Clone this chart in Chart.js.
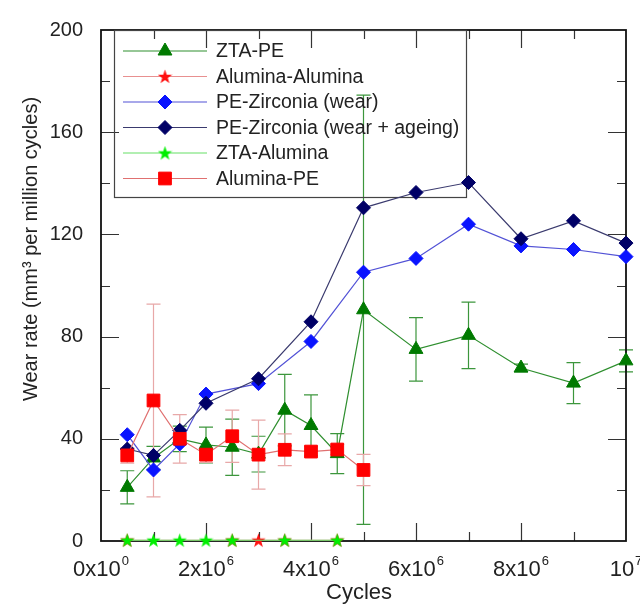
<!DOCTYPE html>
<html>
<head>
<meta charset="utf-8">
<script src="https://cdn.jsdelivr.net/npm/chart.js@4/dist/chart.umd.min.js"></script>
<style>
  html, body { margin: 0; padding: 0; background: #fff; }
  #wrap { width: 640px; height: 608px; }
</style>
</head>
<body>
<div id="wrap"><canvas id="wear-chart"></canvas></div>
<script>
// cycles in millions
var ztaPeX = [0.5, 1, 1.5, 2, 2.5, 3, 3.5, 4, 4.5, 5, 6, 7, 8, 9, 10];
var ztaPeY = [21, 32.5, 40, 37.6, 36.7, 34, 51.2, 45.2, 34.2, 90.5, 75, 80.5, 67.7, 61.8, 70.5];
var ztaPeErr = [6.5, 4.5, 5, 7, 11, 7, 14, 12, 7.8, 84, 12.4, 13, 1.5, 8, 4.3];

var aluAluX = [0.5, 2.5, 3, 3.5, 4.5];
var aluAluY = [0.3, 0.3, 0.3, 0.3, 0.3];

var zircX = [0.5, 1, 1.5, 2, 3, 4, 5, 6, 7, 8, 9, 10];
var zircWearY = [41.6, 27.8, 38, 57.5, 61.6, 78.1, 105.2, 110.6, 124, 115.5, 114.1, 111.3];
var zircAgeY = [36, 33.5, 43.3, 53.9, 63.5, 85.8, 130.4, 136.4, 140.3, 118.3, 125.3, 116.6];

var ztaAluX = [0.5, 1, 1.5, 2, 2.5, 3.5, 4.5];
var ztaAluY = [0.3, 0.3, 0.3, 0.3, 0.3, 0.3, 0.3];

var aluPeX = [0.5, 1, 1.5, 2, 2.5, 3, 3.5, 4, 4.5, 5];
var aluPeY = [33.5, 55, 40, 33.8, 41, 33.8, 35.7, 35, 35.8, 27.8];
var aluPeErr = [3, 37.7, 9.5, 3, 10.2, 13.5, 6.2, 2, 2, 6.1];

var xTickValues = [0, 2, 4, 6, 8, 10];
var xTickBase = ['0x10', '2x10', '4x10', '6x10', '8x10', '10'];
var xTickExp = ['0', '6', '6', '6', '6', '7'];

function pts(xs, ys) {
    return xs.map(function (x, i) { return { x: x * 1e6, y: ys[i] }; });
}

function starImage(color, size) {
    var c = document.createElement('canvas');
    c.width = c.height = size;
    var g = c.getContext('2d');
    g.fillStyle = color;
    g.beginPath();
    for (var i = 0; i < 10; i++) {
        var r = i % 2 ? size * 0.2 : size * 0.5;
        var a = -Math.PI / 2 + i * Math.PI / 5;
        g.lineTo(size / 2 + r * Math.cos(a), size / 2 + 0.6 + r * Math.sin(a));
    }
    g.closePath();
    g.fill();
    return c;
}

var redStar = starImage('#ff1010', 15);
var greenStar = starImage('#00ee00', 15);

var datasets = [
    { label: 'ZTA-PE', data: pts(ztaPeX, ztaPeY), borderColor: '#2f8f2f', pointBackgroundColor: '#007a00',
      pointBorderColor: '#007a00', pointStyle: 'triangle', pointRadius: 8, errorBars: ztaPeErr, errorColor: '#3c963c', order: 6 },
    { label: 'Alumina-Alumina', data: pts(aluAluX, aluAluY), borderColor: '#e89090', pointStyle: redStar, order: 5 },
    { label: 'PE-Zirconia (wear)', data: pts(zircX, zircWearY), borderColor: '#5252d6', pointBackgroundColor: '#0a14ff',
      pointBorderColor: '#0a14ff', pointStyle: 'rectRot', pointRadius: 7, order: 4 },
    { label: 'PE-Zirconia (wear + ageing)', data: pts(zircX, zircAgeY), borderColor: '#3a3a6e', pointBackgroundColor: '#000066',
      pointBorderColor: '#000066', pointStyle: 'rectRot', pointRadius: 7, order: 3 },
    { label: 'ZTA-Alumina', data: pts(ztaAluX, ztaAluY), borderColor: '#66e066', pointStyle: greenStar, order: 2 },
    { label: 'Alumina-PE', data: pts(aluPeX, aluPeY), borderColor: '#e07070', pointBackgroundColor: '#ff0000',
      pointBorderColor: '#ff0000', pointStyle: 'rect', pointRadius: 9, errorBars: aluPeErr, errorColor: '#e8a8a8', order: 1 }
];
datasets.forEach(function (d) {
    d.borderWidth = 1.2;
    d.showLine = true;
    d.clip = false;
    d.pointBorderWidth = 1;
    d.tension = 0;
});

var TXT = '#222';
var FONT = 'Arial, "Liberation Sans", sans-serif';

var framePlugin = {
    id: 'frame',
    beforeDatasetsDraw: function (chart) {
        var ctx = chart.ctx, a = chart.chartArea, x = chart.scales.x, y = chart.scales.y;
        ctx.save();
        // error bars
        chart.data.datasets.forEach(function (d) {
            if (!d.errorBars) return;
            ctx.strokeStyle = d.errorColor;
            ctx.lineWidth = 1.2;
            d.data.forEach(function (p, i) {
                var e = d.errorBars[i];
                var px = x.getPixelForValue(p.x);
                var top = y.getPixelForValue(p.y + e), bot = y.getPixelForValue(p.y - e);
                ctx.beginPath();
                ctx.moveTo(px, top); ctx.lineTo(px, bot);
                ctx.moveTo(px - 7, top); ctx.lineTo(px + 7, top);
                ctx.moveTo(px - 7, bot); ctx.lineTo(px + 7, bot);
                ctx.stroke();
            });
        });
        // ticks
        ctx.strokeStyle = '#333';
        ctx.lineWidth = 1.2;
        ctx.beginPath();
        for (var v = 20; v < 200; v += 20) {
            var py = Math.round(y.getPixelForValue(v)) + 0.5;
            var len = v % 40 === 0 ? 18 : 9;
            ctx.moveTo(a.left, py); ctx.lineTo(a.left + len, py);
            ctx.moveTo(a.right, py); ctx.lineTo(a.right - len, py);
        }
        for (var m = 1; m < 10; m++) {
            var px2 = Math.round(x.getPixelForValue(m * 1e6)) + 0.5;
            var l2 = m % 2 === 0 ? 18 : 9;
            ctx.moveTo(px2, a.bottom); ctx.lineTo(px2, a.bottom - l2);
            ctx.moveTo(px2, a.top); ctx.lineTo(px2, a.top + l2);
        }
        ctx.stroke();
        ctx.strokeStyle = '#111';
        ctx.lineWidth = 1.8;
        ctx.strokeRect(a.left, a.top, a.right - a.left, a.bottom - a.top);

        // legend
        ctx.strokeStyle = '#444';
        ctx.lineWidth = 1.2;
        ctx.strokeRect(114.5, 30.5, 352, 167);
        ctx.font = '19.5px ' + FONT;
        ctx.textBaseline = 'middle';
        ctx.textAlign = 'left';
        chart.data.datasets.forEach(function (d, i) {
            var ry = 51 + i * 25.5;
            ctx.strokeStyle = d.borderColor;
            ctx.lineWidth = 1.2;
            ctx.beginPath();
            ctx.moveTo(123, ry); ctx.lineTo(207, ry);
            ctx.stroke();
            ctx.fillStyle = d.pointBackgroundColor || '#000';
            ctx.strokeStyle = d.pointBorderColor || '#000';
            ctx.lineWidth = 1;
            Chart.helpers.drawPoint(ctx, { pointStyle: d.pointStyle, radius: d.pointRadius || 7, rotation: 0, borderWidth: 1 }, 165, ry);
            ctx.fillStyle = TXT;
            ctx.fillText(d.label, 216, ry + 1);
        });
        ctx.restore();
    },
    afterDraw: function (chart) {
        var ctx = chart.ctx, x = chart.scales.x;
        ctx.save();
        ctx.fillStyle = TXT;
        ctx.textBaseline = 'alphabetic';
        xTickValues.forEach(function (v, i) {
            var px = x.getPixelForValue(v * 1e6);
            ctx.font = '22px ' + FONT;
            var wb = ctx.measureText(xTickBase[i]).width;
            ctx.font = '13px ' + FONT;
            var we = ctx.measureText(xTickExp[i]).width;
            var x0 = px - (wb + we + 1) / 2;
            ctx.textAlign = 'left';
            ctx.font = '22px ' + FONT;
            ctx.fillText(xTickBase[i], x0, 576);
            ctx.font = '13px ' + FONT;
            ctx.fillText(xTickExp[i], x0 + wb + 1, 565);
        });
        ctx.textAlign = 'center';
        ctx.font = '22px ' + FONT;
        ctx.fillText('Cycles', 359, 599);
        ctx.translate(31, 249);
        ctx.rotate(-Math.PI / 2);
        ctx.font = '20px ' + FONT;
        ctx.textBaseline = 'middle';
        ctx.fillText('Wear rate (mm\u00b3 per million cycles)', 0, 0);
        ctx.restore();
    }
};

var ctx = document.getElementById('wear-chart');
var chart = new Chart(ctx, {
    type: 'line',
    data: { datasets: datasets },
    options: {
        responsive: true,
        maintainAspectRatio: false,
        animation: false,
        devicePixelRatio: 1,
        layout: { padding: { left: 0, top: 17, right: 14, bottom: 0 } },
        plugins: { legend: { display: false }, tooltip: { enabled: false } },
        scales: {
            x: {
                type: 'linear', min: 0, max: 1e7,
                ticks: { display: false },
                grid: { display: false, drawTicks: false },
                border: { display: false },
                afterFit: function (s) { s.height = 67; }
            },
            y: {
                min: 0, max: 200,
                ticks: {
                    stepSize: 20, padding: 18, color: TXT,
                    font: { family: FONT, size: 20 },
                    callback: function (v) { return v % 40 === 0 ? v : ''; }
                },
                grid: { display: false, drawTicks: false },
                border: { display: false },
                afterFit: function (s) { s.width = 101; }
            }
        }
    },
    plugins: [framePlugin]
});
</script>
</body>
</html>
